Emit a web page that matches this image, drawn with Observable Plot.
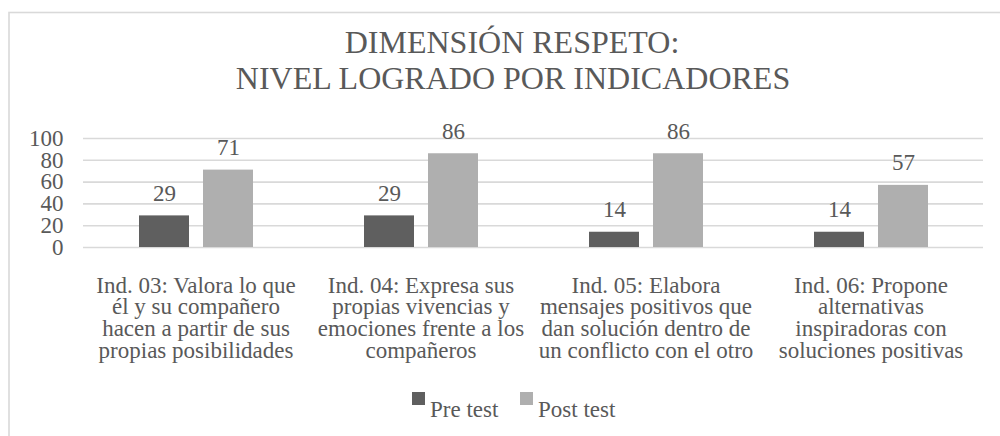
<!DOCTYPE html>
<html>
<head>
<meta charset="utf-8">
<script src="https://cdn.jsdelivr.net/npm/d3@7"></script>
<script src="https://cdn.jsdelivr.net/npm/@observablehq/plot@0.6"></script>
<style>
  html, body { margin: 0; padding: 0; background: #fff; }
  #wrap { position: relative; width: 1000px; height: 436px; overflow: hidden; background: #fff; }
  #overlay { position: absolute; left: 0; top: 0; }
  #chart { position: absolute; left: 0; top: 100px; }
  svg text { font-family: "Liberation Serif", "DejaVu Serif", serif !important; }
</style>
</head>
<body>
<div id="wrap">
  <svg id="overlay" width="1000" height="436"></svg>
  <div id="chart"></div>
</div>
<script>
const FONT = '"Liberation Serif", "DejaVu Serif", serif';
const titleLines = ["DIMENSIÓN RESPETO:", "NIVEL LOGRADO POR INDICADORES"];
const categories = ["Ind. 03", "Ind. 04", "Ind. 05", "Ind. 06"];
const categoryLabels = [
  "Ind. 03: Valora lo que\nél y su compañero\nhacen a partir de sus\npropias posibilidades",
  "Ind. 04: Expresa sus\npropias vivencias y\nemociones frente a los\ncompañeros",
  "Ind. 05: Elabora\nmensajes positivos que\ndan solución dentro de\nun conflicto con el otro",
  "Ind. 06: Propone\nalternativas\ninspiradoras con\nsoluciones positivas"
];
const series = ["Pre test", "Post test"];
const preTest = [29, 29, 14, 14];
const postTest = [71, 86, 86, 57];
const yTicks = [0, 20, 40, 60, 80, 100];
const colors = ["#5f5f5f", "#afafaf"];
const textColor = "#595959";

const data = categories.flatMap((c, i) => [
  {cat: c, series: series[0], value: preTest[i]},
  {cat: c, series: series[1], value: postTest[i]}
]);

// Overlay: frame, title, legend
const ov = d3.select("#overlay").attr("font-family", FONT);
ov.append("rect").attr("x", 9).attr("y", 12.5).attr("width", 1200).attr("height", 800)
  .attr("fill", "none").attr("stroke", "#d9d9d9").attr("stroke-width", 1.6);
ov.append("text").attr("x", 512).attr("y", 53).attr("text-anchor", "middle")
  .attr("font-size", 32).attr("fill", textColor).text(titleLines[0]);
ov.append("text").attr("x", 513).attr("y", 89).attr("text-anchor", "middle")
  .attr("font-size", 32).attr("fill", textColor).text(titleLines[1]);

const legendX = [412, 520];
series.forEach((s, i) => {
  ov.append("rect").attr("x", legendX[i]).attr("y", 392).attr("width", 13).attr("height", 13)
    .attr("fill", colors[i]);
  ov.append("text").attr("x", legendX[i] + 18).attr("y", 417)
    .attr("font-size", 23).attr("fill", textColor).text(s);
});

const chart = Plot.plot({
  width: 1000,
  height: 280,
  marginTop: 38,
  marginBottom: 133,
  marginLeft: 82,
  marginRight: 17,
  style: {fontFamily: FONT, fontSize: "23px", color: textColor, background: "transparent", overflow: "visible"},
  fx: {domain: categories, padding: 0, axis: null},
  x: {domain: series, paddingInner: 0.21875, paddingOuter: 0.867, axis: null},
  y: {domain: [0, 100], axis: null},
  color: {domain: series, range: colors},
  marks: [
    Plot.gridY(yTicks, {stroke: "#d9d9d9", strokeOpacity: 1, strokeWidth: 1.6}),
    Plot.axisY(yTicks, {tickSize: 0, tickPadding: 20, fontSize: 23, fill: textColor, label: null}),
    Plot.barY(data, {fx: "cat", x: "series", y: "value", fill: "series"}),
    Plot.text(data, {fx: "cat", x: "series", y: "value", text: d => String(d.value),
      dy: -15, lineAnchor: "bottom", fill: textColor, fontSize: 23}),
    Plot.text(categories, {fx: d => d, text: (d, i) => categoryLabels[i],
      frameAnchor: "bottom", lineAnchor: "top", dy: 30, lineHeight: 0.94,
      fill: textColor, fontSize: 23})
  ]
});
document.getElementById("chart").appendChild(chart);
</script>
</body>
</html>
